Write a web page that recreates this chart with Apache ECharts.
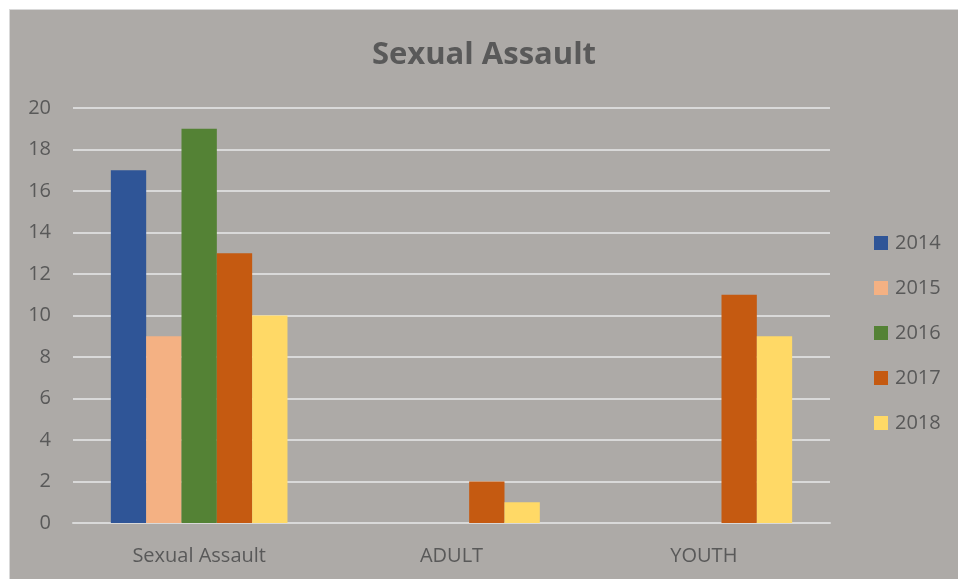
<!DOCTYPE html>
<html>
<head>
<meta charset="utf-8">
<script src="https://cdn.jsdelivr.net/npm/echarts@6/dist/echarts.min.js"></script>
<style>
  html, body { margin: 0; padding: 0; background: #ffffff; }
  #main {
    position: absolute; left: 9px; top: 9px; width: 949px; height: 570px;
    box-sizing: border-box; border-left: 1px solid #d9d9d9; border-top: 1px solid #d9d9d9;
    background: #adaaa7;
  }
</style>
</head>
<body>
<div id="main"></div>
<script>
// chart values
const categories = ['Sexual Assault', 'ADULT', 'YOUTH'];
const years = ['2014', '2015', '2016', '2017', '2018'];
const values2014 = [17, 0, 0];
const values2015 = [9, 0, 0];
const values2016 = [19, 0, 0];
const values2017 = [13, 2, 11];
const values2018 = [10, 1, 9];
const colors = ['#2f5597', '#f4b183', '#548235', '#c55a11', '#ffd966'];

const allValues = [values2014, values2015, values2016, values2017, values2018];

const myChart = echarts.init(document.getElementById('main'));

const option = {
  animation: false,
  title: {
    text: 'Sexual Assault',
    left: 'center',
    top: 25,
    textStyle: {
      fontFamily: 'Open Sans',
      fontSize: 31,
      fontWeight: 'bold',
      color: '#595959',
    },
  },
  legend: {
    orient: 'vertical',
    left: 859,
    top: 218,
    itemWidth: 14,
    itemHeight: 14,
    itemGap: 25,
    icon: 'rect',
    data: years,
    textStyle: {
      fontFamily: 'Open Sans',
      fontSize: 20,
      color: '#595959',
      padding: [0, 0, 0, 2],
    },
  },
  grid: {
    left: 63,
    right: 128,
    top: 98,
    bottom: 56,
    containLabel: false,
  },
  xAxis: {
    type: 'category',
    data: categories,
    axisLine: { show: true, lineStyle: { color: '#d9d9d9', width: 2 } },
    axisTick: { show: false },
    axisLabel: {
      margin: 23,
      fontFamily: 'Open Sans',
      fontSize: 20,
      color: '#595959',
    },
  },
  yAxis: {
    type: 'value',
    min: 0,
    max: 20,
    interval: 2,
    axisLine: { show: false },
    axisTick: { show: false },
    splitLine: { lineStyle: { color: '#d9d9d9', width: 2 } },
    axisLabel: {
      margin: 22,
      fontFamily: 'Open Sans',
      fontSize: 20,
      color: '#595959',
    },
  },
  series: years.map(function (y, i) {
    return {
      name: y,
      type: 'bar',
      data: allValues[i],
      itemStyle: { color: colors[i] },
      barGap: '0%',
      barCategoryGap: '30%',
    };
  }),
};

myChart.setOption(option);
</script>
</body>
</html>
